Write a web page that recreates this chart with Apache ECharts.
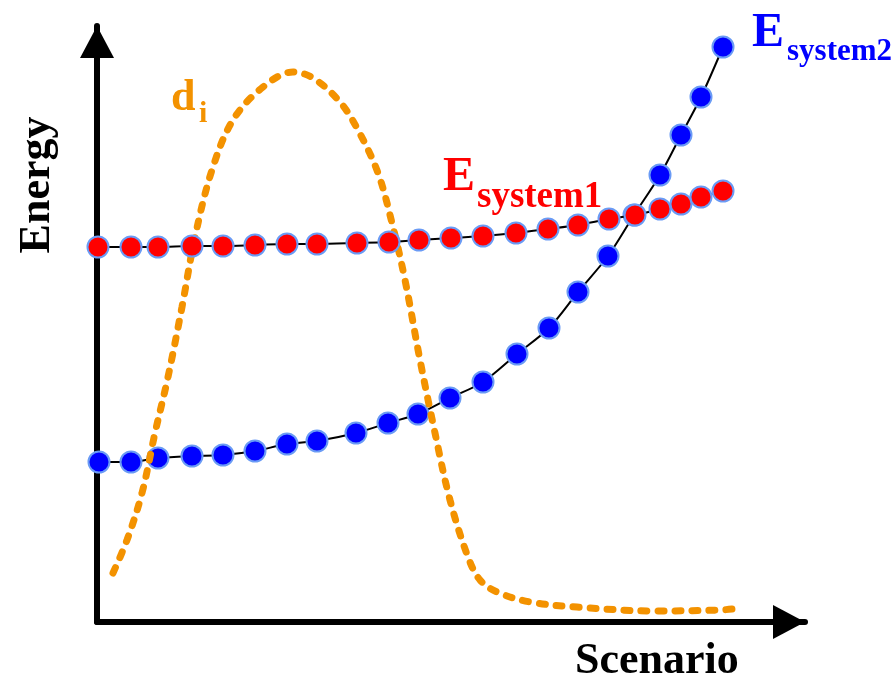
<!DOCTYPE html>
<html>
<head>
<meta charset="utf-8">
<script src="https://cdn.jsdelivr.net/npm/echarts@6/dist/echarts.min.js"></script>
<style>
  html, body { margin: 0; padding: 0; background: #ffffff; }
  #chart { width: 895px; height: 679px; }
</style>
</head>
<body>
<div id="chart"></div>
<script>
// Scenario coordinate (x) and energy (y) for each curve, in axis units.
const system1X = [1, 34, 61, 95, 126, 158, 190, 220, 260, 292, 322, 354, 386, 419, 451, 481, 512, 538, 563, 584, 604, 626];
const system1Y = [375, 375, 375, 376, 376, 377, 378, 378, 379, 380, 382, 384, 386, 389, 393, 397, 403, 407, 413, 418, 425, 431];

const system2X = [2, 34, 61, 95, 126, 158, 190, 220, 259, 291, 321, 353, 386, 420, 452, 481, 511, 537, 563, 584, 604, 626];
const system2Y = [160, 160, 164, 166, 167, 171, 178, 181, 189, 199, 208, 224, 240, 268, 294, 330, 366, 407, 447, 487, 525, 575];

const distX = [16, 30, 45, 58, 71, 85, 98, 115, 136, 166, 196, 216, 243, 261, 281, 295, 308, 323, 338, 353, 371, 383, 400, 433, 480, 556, 623, 644];
const distY = [49, 82, 129, 189, 245, 315, 385, 452, 502, 535, 550, 544, 520, 492, 449, 399, 342, 262, 189, 122, 65, 42, 30, 20, 15, 11, 12, 14];

const xMax = 708;
const yMax = 596;

const RED = '#FF0000';
const BLUE = '#0000FF';
const ORANGE = '#F39200';
const RIM = '#6A9BF5';
const SERIF = '"Liberation Serif", "Times New Roman", serif';

const zip = (xs, ys) => xs.map((x, i) => [x, ys[i]]);

const chart = echarts.init(document.getElementById('chart'), null, { renderer: 'canvas' });

const axisLine = {
  show: true,
  symbol: ['none', 'triangle'],
  symbolSize: [34, 32],
  symbolOffset: [0, -16],
  lineStyle: { color: '#000000', width: 6, cap: 'round' }
};

function text(x, y, str, size, color, extra) {
  return Object.assign({
    type: 'text',
    x: x,
    y: y,
    z: 10,
    style: {
      text: str,
      font: 'bold ' + size + 'px ' + SERIF,
      fill: color,
      textAlign: 'left',
      textVerticalAlign: 'middle'
    }
  }, extra || {});
}

chart.setOption({
  animation: false,
  backgroundColor: '#ffffff',
  grid: { left: 97, right: 90, top: 26, bottom: 57 },
  xAxis: {
    type: 'value', min: 0, max: xMax,
    axisLine: axisLine,
    axisTick: { show: false }, axisLabel: { show: false }, splitLine: { show: false }
  },
  yAxis: {
    type: 'value', min: 0, max: yMax,
    axisLine: axisLine,
    axisTick: { show: false }, axisLabel: { show: false }, splitLine: { show: false }
  },
  series: [
    {
      name: 'Esystem2',
      type: 'line',
      z: 2,
      smooth: 0.3,
      data: zip(system2X, system2Y),
      symbol: 'circle',
      symbolSize: 21,
      lineStyle: { color: '#000000', width: 2 },
      itemStyle: { color: BLUE, borderColor: RIM, borderWidth: 2 }
    },
    {
      name: 'di',
      type: 'line',
      z: 3,
      smooth: 0.35,
      showSymbol: false,
      data: zip(distX, distY),
      lineStyle: { color: ORANGE, width: 7, type: [6, 11], cap: 'round' }
    },
    {
      name: 'Esystem1',
      type: 'line',
      z: 4,
      smooth: 0.3,
      data: zip(system1X, system1Y),
      symbol: 'circle',
      symbolSize: 21,
      lineStyle: { color: '#000000', width: 2 },
      itemStyle: { color: RED, borderColor: RIM, borderWidth: 2 }
    }
  ],
  graphic: [
    text(38, 185, 'Energy', 44, '#000000', { rotation: Math.PI / 2, style: {
      text: 'Energy', font: 'bold 44px ' + SERIF, fill: '#000000', textAlign: 'center', textVerticalAlign: 'middle' } }),
    text(575, 662, 'Scenario', 44, '#000000'),
    text(171, 99, 'd', 44, ORANGE),
    text(199, 114, 'i', 30, ORANGE),
    text(443, 178, 'E', 48, RED),
    text(477, 197, 'system1', 37, RED),
    text(752, 34, 'E', 48, BLUE),
    text(787, 52, 'system2', 31, BLUE)
  ]
});
</script>
</body>
</html>
